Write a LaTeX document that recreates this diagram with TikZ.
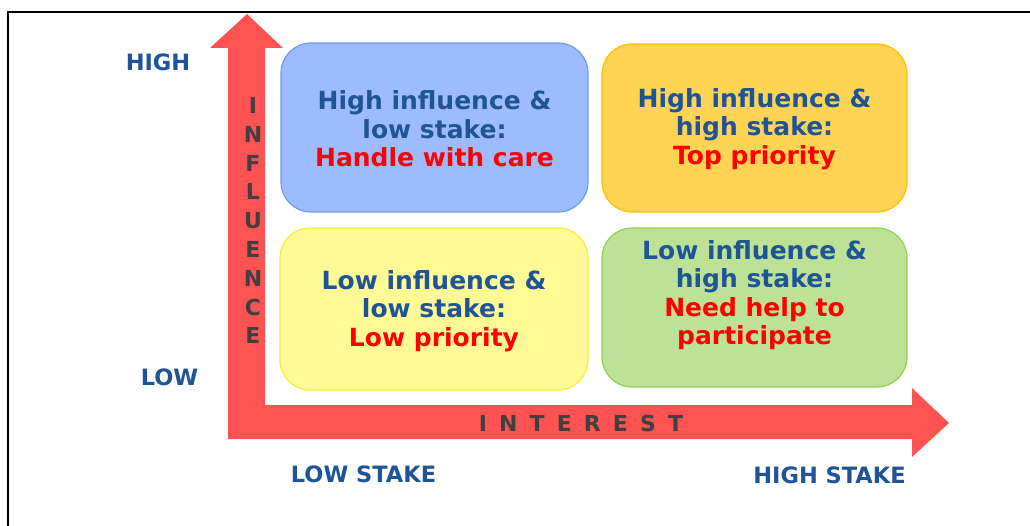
\documentclass[tikz,border=0pt]{standalone}
\usepackage{fontspec}
\setmainfont{DejaVu Sans}
\definecolor{arrowred}{HTML}{FF5252}
\definecolor{txtblue}{HTML}{1F5596}
\definecolor{txtred}{HTML}{FF0000}
\definecolor{txtgray}{HTML}{404040}
\definecolor{bluefill}{HTML}{9DBBFF}
\definecolor{blueline}{HTML}{6D9EEB}
\definecolor{orfill}{HTML}{FFD455}
\definecolor{orline}{HTML}{FFC000}
\definecolor{yelfill}{HTML}{FFFA96}
\definecolor{yelline}{HTML}{F2EE3A}
\definecolor{grfill}{HTML}{BDE195}
\definecolor{grline}{HTML}{92D050}
\newcommand{\gp}{\hspace{12.1pt}}
\begin{document}
\begin{tikzpicture}[x=1pt,y=-1pt,
  quad/.style={rounded corners=30pt, line width=1.2pt, inner sep=0pt},
  quadtext/.style={inner sep=0pt, align=center, font=\fontsize{25}{28.5}\selectfont\bfseries, text=txtblue},
  axlabel/.style={inner sep=0pt, font=\fontsize{22.5}{24}\selectfont\bfseries, text=txtblue},
  axletter/.style={inner sep=0pt, font=\fontsize{22}{24}\selectfont\bfseries, text=txtgray}]
\useasboundingbox (0,0) rectangle (1030,526);
\fill[white] (0,0) rectangle (1030,526);
% frame
\draw[line width=2pt] (8,540) -- (8,12) -- (1040,12);
% L-shaped arrow
\fill[arrowred] (228,439) -- (912,439) -- (912,457) -- (949,423) -- (912,388) -- (912,405)
  -- (265,405) -- (265,48) -- (283,48) -- (247,14) -- (210,48) -- (228,48) -- cycle;
% quadrant boxes
\draw[quad, fill=bluefill, draw=blueline] (281,43) rectangle (588,212);
\draw[quad, fill=orfill, draw=orline] (602,44) rectangle (907,212);
\draw[quad, fill=yelfill, draw=yelline] (280,228) rectangle (588,390);
\draw[quad, fill=grfill, draw=grline] (602,228) rectangle (907,387);
\coordinate (bluebox) at (434.5,129);
\coordinate (orbox) at (754.5,129);
\coordinate (yelbox) at (434,311);
\coordinate (grbox) at (754.5,295);
% texts
\node[quadtext] (tHL) at (bluebox) {High influence \&\\low stake:\\\textcolor{txtred}{Handle with care}};
\node[quadtext] (tHH) at (orbox) {High influence \&\\high stake:\\\textcolor{txtred}{Top priority}};
\node[quadtext] (tLL) at (yelbox) {Low influence \&\\low stake:\\\textcolor{txtred}{Low priority}};
\node[quadtext] (tLH) at (grbox) {Low influence \&\\high stake:\\\textcolor{txtred}{Need help to}\\\textcolor{txtred}{participate}};
% axis labels
\node[axlabel] (high) at (158,62) {HIGH};
\node[axlabel] (low) at (169.5,377) {LOW};
\node[axlabel] (lowstake) at (363.5,474.5) {LOW STAKE};
\node[axlabel] (highstake) at (829.5,475) {HIGH STAKE};
% INFLUENCE
\foreach \L [count=\i from 0] in {I,N,F,L,U,E,N,C,E}
  \node[axletter] (infl\i) at (253,105.5+28.8*\i) {\L};
% INTEREST
\node[axletter] (interest) at (581,423.5) {I\gp N\gp T\gp E\gp R\gp E\gp S\gp T};
\end{tikzpicture}
\end{document}
